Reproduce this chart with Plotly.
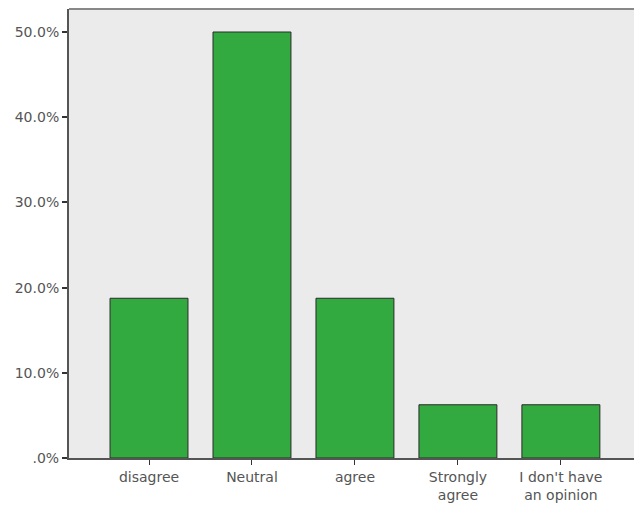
import plotly.graph_objects as go

categories = ["disagree", "Neutral", "agree", "Strongly<br>agree", "I don't have<br>an opinion"]
percents = [18.75, 50.0, 18.75, 6.25, 6.25]
y_tick_vals = [0, 10, 20, 30, 40, 50]
y_tick_text = [".0%", "10.0%", "20.0%", "30.0%", "40.0%", "50.0%"]

fig = go.Figure(go.Bar(
    x=list(range(len(categories))),
    y=percents,
    width=0.757,
    marker=dict(color="#33AA40", line=dict(color="#2a2a2a", width=1)),
))

fig.update_layout(
    width=634, height=508,
    margin=dict(l=69, r=0, t=9, b=50),
    paper_bgcolor="white",
    plot_bgcolor="#EBEBEB",
    showlegend=False,
    font=dict(family="DejaVu Sans, Liberation Sans, Arial, sans-serif", size=14, color="#555555"),
    xaxis=dict(
        range=[-0.777, 4.71],
        tickmode="array",
        tickvals=list(range(len(categories))),
        ticktext=categories,
        ticks="outside", ticklen=5, tickcolor="#333333", tickwidth=1,
        showline=True, linecolor="#555555", linewidth=1.5,
        showgrid=False, zeroline=False,
        fixedrange=True,
    ),
    yaxis=dict(
        range=[0, 52.7],
        tickmode="array",
        tickvals=y_tick_vals,
        ticktext=y_tick_text,
        ticks="outside", ticklen=5, tickcolor="#333333", tickwidth=1.5,
        showline=True, linecolor="#555555", linewidth=2,
        showgrid=False, zeroline=False,
        fixedrange=True,
    ),
    shapes=[dict(type="line", xref="paper", yref="paper", x0=0, x1=1, y0=1, y1=1,
                 line=dict(color="#888888", width=2))],
)

fig.write_html(
    "out.html",
    config={"displayModeBar": False},
    post_script="document.body.style.margin='0';document.body.style.overflow='hidden';",
)
